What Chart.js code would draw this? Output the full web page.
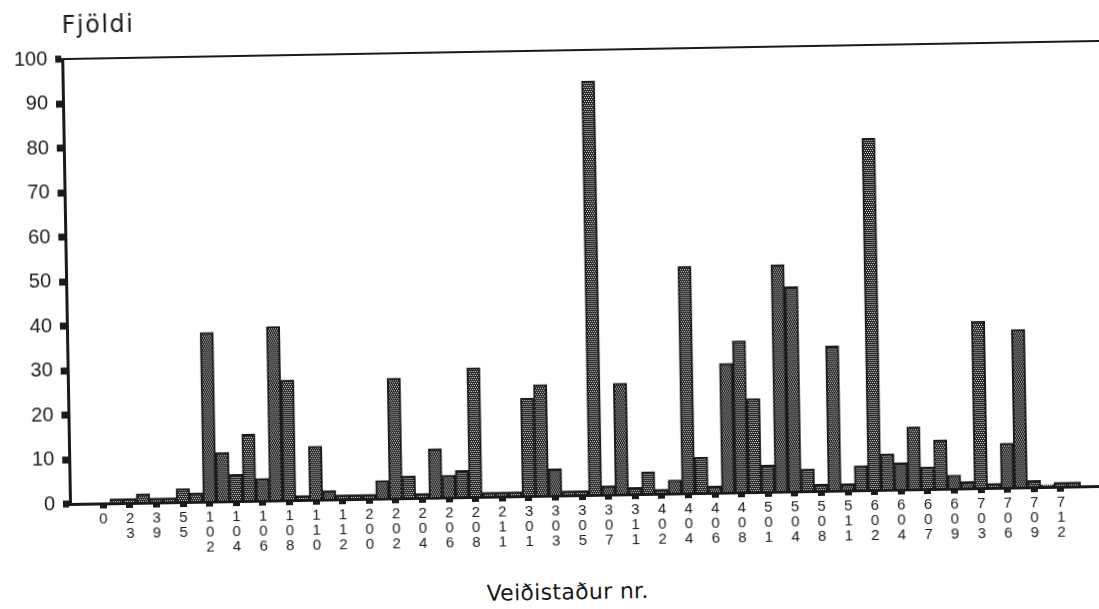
<!DOCTYPE html>
<html><head><meta charset="utf-8">
<script src="https://cdn.jsdelivr.net/npm/chart.js@4.4.1/dist/chart.umd.min.js"></script>
<style>
html,body{margin:0;padding:0;width:1099px;height:609px;overflow:hidden;background:#fff;}
#wrap{position:absolute;left:0;top:0;width:1115px;height:640px;transform-origin:70px 504px;transform:rotate(-1deg);}
#box{position:absolute;left:0;top:0;width:1115px;height:570px;}
.t{position:absolute;font-family:'DejaVu Sans';color:#1a1a1a;white-space:nowrap;line-height:1;}
#ytitle{left:70px;top:13px;font-size:24px;letter-spacing:1.5px;}
#xtitle{left:566px;top:590px;font-size:22px;letter-spacing:0.3px;transform:translateX(-50%);}
</style></head>
<body>
<div id="wrap">
  <div id="box"><canvas id="c"></canvas></div>
  <div class="t" id="ytitle">Fjöldi</div>
  <div class="t" id="xtitle">Veiðistaður nr.</div>
</div>
<script>
const categories = ["","","0","","23","","39","","55","","102","","104","","106","","108","","110","","112","","200","","202","","204","","206","","208","","211","","301","","303","","305","","307","","311","","402","","404","","406","","408","","501","","504","","508","","511","","602","","604","","607","","609","","703","","706","","709","","712","","",""];
const counts = [0,0,0,1,1,2,1,1,3,2,
  38,11,6,15,5,39,27,1,12,2,
  1,1,1,4,27,5,1,11,5,6,
  29,1,1,1,22,25,6,1,1,93,
  2,25,1.5,5,1,3,51,8,1.5,29,
  34,21,6,51,46,5,1.5,32.5,1.5,5.5,
  79,8,6,14,5,11,3,1.5,37.5,1,
  10,35.5,1.5,0.5,1,1,0,0];
const yMin = 0, yMax = 100, yStep = 10;

const INK = '#1a1a1a';
function makePattern(){
  const c=document.createElement('canvas'); c.width=4; c.height=4;
  const g=c.getContext('2d'); g.fillStyle='#242424'; g.fillRect(0,0,4,4);
  g.fillStyle='#dcdcdc';
  g.fillRect(0,0,1,1); g.fillRect(2,0,1,1); g.fillRect(1,2,1,1); g.fillRect(3,2,1,1);
  return g.createPattern(c,'repeat');
}

new Chart(document.getElementById('c'), {
  type: 'bar',
  data: { labels: categories, datasets: [{
    data: counts,
    backgroundColor: makePattern(),
    borderColor: INK,
    borderWidth: 2,
    categoryPercentage: 1,
    barPercentage: 1
  }]},
  options: {
    responsive: true, maintainAspectRatio: false, animation: false,
    layout: { padding: { top: 59, left: 0, right: 7.6, bottom: 0 } },
    plugins: { legend: { display: false }, tooltip: { enabled: false } },
    scales: {
      x: {
        afterFit: s => { s.height = 66; },
        border: { display: true, color: INK, width: 3 },
        grid: {
          offset: false, drawOnChartArea: false, drawTicks: true,
          tickLength: 5, tickWidth: 7,
          tickColor: ctx => categories[ctx.index] ? INK : 'rgba(0,0,0,0)'
        },
        ticks: {
          autoSkip: false, maxRotation: 0, minRotation: 0, padding: 3,
          color: INK,
          font: { family: "'Liberation Sans', Arial", size: 15, lineHeight: '15px' },
          callback: function(v, i){ const l = categories[i]; return l ? l.split('') : ''; }
        }
      },
      y: {
        min: yMin, max: yMax,
        afterFit: s => { s.width = 70; },
        border: { display: true, color: INK, width: 3 },
        grid: {
          drawOnChartArea: true, drawTicks: true,
          color: ctx => (ctx.tick && ctx.tick.value === yMax) ? INK : 'rgba(0,0,0,0)',
          lineWidth: 2,
          tickColor: INK, tickLength: 7, tickWidth: 7
        },
        ticks: {
          stepSize: yStep, padding: 8, color: INK,
          font: { family: "'Liberation Sans', Arial", size: 20 }
        }
      }
    }
  }
});
</script>
</body></html>
